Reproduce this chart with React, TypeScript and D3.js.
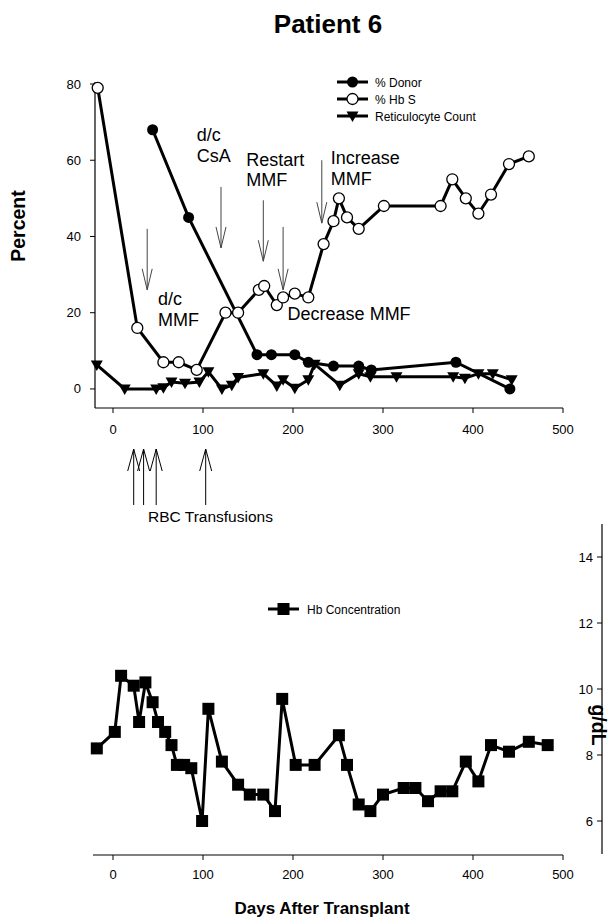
import * as d3 from "d3";

// [day, percent]
const donor: [number, number][] = [
  [44, 68], [84, 45], [160, 9], [176, 9], [202, 9], [217, 7], [245, 6],
  [273, 6], [287, 5], [381, 7], [441, 0],
];
const hbS: [number, number][] = [
  [-17, 79], [27, 16], [56, 7], [73, 7], [93, 5], [125, 20], [139, 20],
  [162, 26], [168, 27], [182, 22], [189, 24], [202, 25], [217, 24], [234, 38],
  [245, 44], [251, 50], [260, 45], [273, 42], [301, 48], [364, 48], [377, 55],
  [392, 50], [406, 46], [420, 51], [440, 59], [462, 61],
];
const retic: [number, number][] = [
  [-18, 6.3], [13, 0], [48, 0], [56, 0.3], [65, 1.8], [80, 1.5], [96, 1.8],
  [106, 4.5], [121, 0], [132, 1], [139, 3], [167, 4], [182, 0.8], [189, 2.4],
  [202, 0.2], [217, 2.4], [224, 6.5], [252, 1], [273, 4], [286, 3.2],
  [315, 3.2], [378, 3.2], [391, 2.8], [406, 4], [422, 4], [443, 2.4],
];
// [day, g/dL]
const hbConc: [number, number][] = [
  [-18, 8.2], [2, 8.7], [9, 10.4], [23, 10.1], [29, 9.0], [36, 10.2],
  [44, 9.6], [50, 9.0], [58, 8.7], [65, 8.3], [71, 7.7], [79, 7.7],
  [87, 7.6], [99, 6.0], [106, 9.4], [121, 7.8], [139, 7.1], [152, 6.8],
  [167, 6.8], [180, 6.3], [188, 9.7], [203, 7.7], [224, 7.7], [251, 8.6],
  [260, 7.7], [273, 6.5], [286, 6.3], [300, 6.8], [323, 7.0], [336, 7.0],
  [350, 6.6], [364, 6.9], [377, 6.9], [392, 7.8], [406, 7.2], [420, 8.3],
  [440, 8.1], [462, 8.4], [483, 8.3],
];

// drug-change arrows: day, arrow top %, arrow tip %
const events = [
  { day: 38, from: 42, to: 26 },
  { day: 120, from: 53, to: 37 },
  { day: 167, from: 49.5, to: 33.5 },
  { day: 189, from: 42.5, to: 26 },
  { day: 232, from: 60, to: 43.5 },
];
const eventLabels = [
  { day: 50, pct: 22, lines: ["d/c", "MMF"] },
  { day: 93, pct: 65, lines: ["d/c", "CsA"] },
  { day: 148, pct: 58.5, lines: ["Restart", "MMF"] },
  { day: 242, pct: 59, lines: ["Increase", "MMF"] },
  { day: 194, pct: 18, lines: ["Decrease MMF"] },
];
const rbcDays = [23, 34, 48, 103];

const dayTicks = [0, 100, 200, 300, 400, 500];
const pctTicks = [0, 20, 40, 60, 80];
const hbTicks = [6, 8, 10, 12, 14];

const legendTop = [
  { name: "% Donor", mark: "dot" },
  { name: "% Hb S", mark: "ring" },
  { name: "Reticulocyte Count", mark: "tri" },
];

const FONT = "'Liberation Sans', Arial, Helvetica, sans-serif";

function Mark({ type, x, y }: { type: string; x: number; y: number }) {
  if (type === "dot") return <circle cx={x} cy={y} r={5.5} fill="#000" />;
  if (type === "ring")
    return <circle cx={x} cy={y} r={5.5} fill="#fff" stroke="#000" strokeWidth={1.3} />;
  if (type === "tri")
    return <path d={`M${x - 6},${y - 4.5}L${x + 6},${y - 4.5}L${x},${y + 6}Z`} fill="#000" />;
  return <rect x={x - 6} y={y - 6} width={12} height={12} fill="#000" />;
}

export default function App() {
  const x = d3.scaleLinear().domain([-20, 500]).range([95, 563]);
  const yP = d3.scaleLinear().domain([-5, 80]).range([408, 84]);
  const yH = d3.scaleLinear().domain([5, 15]).range([854, 524]);

  const lineP = d3.line<[number, number]>().x(d => x(d[0])).y(d => yP(d[1]));
  const lineH = d3.line<[number, number]>().x(d => x(d[0])).y(d => yH(d[1]));

  const topBase = yP.range()[0];
  const botBase = 855;

  return (
    <svg
      width={612}
      height={920}
      style={{ position: "absolute", left: 0, top: 0, background: "#fff" }}
      fontFamily={FONT}
    >
      <text x={328} y={33} textAnchor="middle" fontSize={26} fontWeight="bold">
        Patient 6
      </text>

      {/* upper panel axes */}
      <line x1={x.range()[0]} x2={x.range()[1]} y1={topBase} y2={topBase} stroke="#000" strokeWidth={1.2} />
      <line x1={95} x2={95} y1={yP.range()[1] - 2} y2={topBase} stroke="#000" strokeWidth={1.2} />
      {dayTicks.map(t => (
        <g key={"tx" + t}>
          <line x1={x(t)} x2={x(t)} y1={topBase} y2={topBase + 5} stroke="#000" />
          <text x={x(t)} y={434} textAnchor="middle" fontSize={13}>{t}</text>
        </g>
      ))}
      {pctTicks.map(t => (
        <g key={"ty" + t}>
          <line x1={90} x2={95} y1={yP(t)} y2={yP(t)} stroke="#000" />
          <text x={81} y={yP(t) + 4.5} textAnchor="end" fontSize={13}>{t}</text>
        </g>
      ))}
      <text
        transform="translate(25,226) rotate(-90)"
        textAnchor="middle"
        fontSize={19.5}
        fontWeight="bold"
      >
        Percent
      </text>

      {/* series */}
      <path d={lineP(donor) ?? ""} fill="none" stroke="#000" strokeWidth={3} />
      <path d={lineP(retic) ?? ""} fill="none" stroke="#000" strokeWidth={3} />
      <path d={lineP(hbS) ?? ""} fill="none" stroke="#000" strokeWidth={3} />
      {donor.map((d, i) => <Mark key={"d" + i} type="dot" x={x(d[0])} y={yP(d[1])} />)}
      {retic.map((d, i) => <Mark key={"r" + i} type="tri" x={x(d[0])} y={yP(d[1])} />)}
      {hbS.map((d, i) => <Mark key={"s" + i} type="ring" x={x(d[0])} y={yP(d[1])} />)}

      {/* legend */}
      {legendTop.map((l, i) => {
        const cy = 82 + i * 17;
        return (
          <g key={l.name}>
            <line x1={337} x2={368} y1={cy} y2={cy} stroke="#000" strokeWidth={3} />
            <Mark type={l.mark} x={352.5} y={cy} />
            <text x={375} y={cy + 4.5} fontSize={12}>{l.name}</text>
          </g>
        );
      })}

      {/* events */}
      {events.map((e, i) => {
        const ex = x(e.day);
        const y0 = yP(e.from);
        const y1 = yP(e.to);
        return (
          <g key={"e" + i} stroke="#444" strokeWidth={1} fill="none">
            <line x1={ex} x2={ex} y1={y0} y2={y1} />
            <polyline points={`${ex - 5},${y1 - 21} ${ex},${y1} ${ex + 5},${y1 - 21}`} />
          </g>
        );
      })}
      {eventLabels.map((l, i) => (
        <text key={"l" + i} x={x(l.day)} y={yP(l.pct)} fontSize={18}>
          {l.lines.map((s, j) => (
            <tspan key={j} x={x(l.day)} dy={j === 0 ? 0 : 20.5}>{s}</tspan>
          ))}
        </text>
      ))}

      {/* transfusions */}
      {rbcDays.map((d, i) => {
        const ax = x(d);
        return (
          <g key={"t" + i} stroke="#000" strokeWidth={1} fill="none">
            <line x1={ax} x2={ax} y1={505} y2={449} />
            <polyline points={`${ax - 6},${471} ${ax},${449} ${ax + 6},${471}`} />
          </g>
        );
      })}
      <text x={148} y={522} fontSize={15.5}>RBC Transfusions</text>

      {/* lower panel */}
      <line x1={x.range()[0] - 2} x2={x.range()[1]} y1={botBase} y2={botBase} stroke="#000" strokeWidth={1.2} />
      {dayTicks.map(t => (
        <g key={"bx" + t}>
          <line x1={x(t)} x2={x(t)} y1={botBase} y2={botBase + 5} stroke="#000" />
          <text x={x(t)} y={879} textAnchor="middle" fontSize={13}>{t}</text>
        </g>
      ))}
      <line x1={602} x2={602} y1={yH.range()[1]} y2={yH.range()[0]} stroke="#000" strokeWidth={1.2} />
      {hbTicks.map(t => (
        <g key={"hy" + t}>
          <line x1={597} x2={602} y1={yH(t)} y2={yH(t)} stroke="#000" />
          <text x={593} y={yH(t) + 4.5} textAnchor="end" fontSize={13}>{t}</text>
        </g>
      ))}
      <text
        transform="translate(592,725) rotate(90)"
        textAnchor="middle"
        fontSize={19.5}
        fontWeight="bold"
      >
        g/dL
      </text>

      <path d={lineH(hbConc) ?? ""} fill="none" stroke="#000" strokeWidth={3} />
      {hbConc.map((d, i) => <Mark key={"h" + i} type="sq" x={x(d[0])} y={yH(d[1])} />)}

      <line x1={268} x2={299} y1={609} y2={609} stroke="#000" strokeWidth={3} />
      <Mark type="sq" x={283.5} y={609} />
      <text x={307} y={613.5} fontSize={12}>Hb Concentration</text>

      <text x={322} y={914} textAnchor="middle" fontSize={17} fontWeight="bold">
        Days After Transplant
      </text>
    </svg>
  );
}
